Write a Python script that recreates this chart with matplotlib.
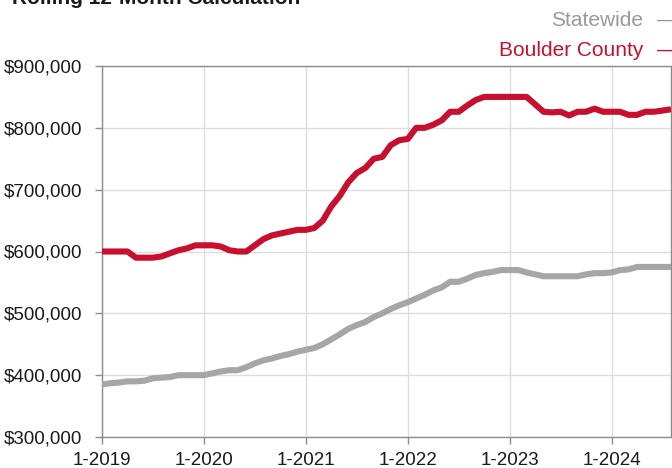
import numpy as np
import matplotlib
matplotlib.use("Agg")
import matplotlib.pyplot as plt

## データ (月次, 1-2019 ～ 8-2024)
months = [f"{m}-{y}" for y in range(2019, 2025) for m in range(1, 13)][:68]

boulder = [600, 600, 600, 600, 590, 590, 590, 592, 597, 602,
           605, 610, 610, 610, 608, 602, 600, 600, 610, 620,
           626, 629, 632, 635, 635, 638, 650, 673, 690, 712,
           727, 735, 750, 753, 772, 780, 782, 800, 800, 805,
           812, 826, 826, 836, 845, 850, 850, 850, 850, 850,
           850, 838, 826, 825, 826, 820, 826, 826, 831, 826,
           826, 826, 821, 821, 826, 826, 828, 830]

statewide = [385, 387, 388, 390, 390, 391, 395, 396, 397, 400,
             400, 400, 400, 403, 406, 408, 408, 413, 419, 424,
             427, 431, 434, 438, 441, 444, 450, 458, 466, 475,
             481, 486, 494, 500, 507, 513, 518, 524, 530, 537,
             542, 551, 551, 556, 562, 565, 567, 570, 570, 570,
             566, 563, 560, 560, 560, 560, 560, 563, 565, 565,
             566, 570, 571, 575, 575, 575, 575, 575]

xtick_labels = ["1-2019", "1-2020", "1-2021", "1-2022", "1-2023", "1-2024"]
ytick_values = [300000, 400000, 500000, 600000, 700000, 800000, 900000]

title = "Rolling 12-Month Calculation"
series_names = ["Statewide", "Boulder County"]

RED = "#C8102E"
GRAY = "#A6A6A6"


def main():
    plt.rcParams['font.family'] = ['Liberation Sans', 'DejaVu Sans']
    plt.rcParams['font.size'] = 14

    fig = plt.figure(figsize=(6.72, 4.68), dpi=100, facecolor='w')
    ax = fig.add_axes([102 / 672, 1 - 437 / 468, 569 / 672, (437 - 66) / 468])

    x = np.arange(len(months))
    ax.plot(x, np.array(statewide) * 1000, color=GRAY, linewidth=4.4,
            solid_capstyle='butt', zorder=3)
    ax.plot(x, np.array(boulder) * 1000, color=RED, linewidth=4.4,
            solid_capstyle='butt', zorder=4)

    ax.set_xlim(0, len(months) - 1)
    ax.set_ylim(300000, 900000)

    xticks = [months.index(lab) for lab in xtick_labels]
    ax.set_xticks(xticks)
    ax.set_xticklabels(xtick_labels)
    ax.set_yticks(ytick_values)
    ax.set_yticklabels([f"${v:,}" for v in ytick_values])

    ax.grid(True, color='#DDDDDD', linewidth=1.0)
    ax.set_axisbelow(True)
    for s in ax.spines.values():
        s.set_color('#8C8C8C')
        s.set_linewidth(1.0)
    ax.tick_params(axis='both', colors='#8C8C8C', labelcolor='#1A1A1A',
                   length=5, width=1.0, labelsize=13.5)
    ax.tick_params(axis='x', pad=6)
    ax.tick_params(axis='y', pad=9)

    # タイトル (上端で切れている)
    fig.text(12 / 672, 1 - 4 / 468, title, fontsize=15, fontweight='bold',
             color='#1A1A1A', ha='left', va='baseline')

    # 凡例 (右上)
    fig.text(643 / 672, 1 - 26 / 468, series_names[0], fontsize=15,
             color='#999999', ha='right', va='baseline')
    fig.text(657 / 672, 1 - 26 / 468, "—", fontsize=15,
             color='#999999', ha='left', va='baseline')
    fig.text(643 / 672, 1 - 56 / 468, series_names[1], fontsize=15,
             color=RED, ha='right', va='baseline')
    fig.text(657 / 672, 1 - 56 / 468, "—", fontsize=15,
             color=RED, ha='left', va='baseline')

    fig.savefig("out.png", dpi=100, facecolor='w')
    plt.close(fig)


if __name__ == "__main__":
    main()
